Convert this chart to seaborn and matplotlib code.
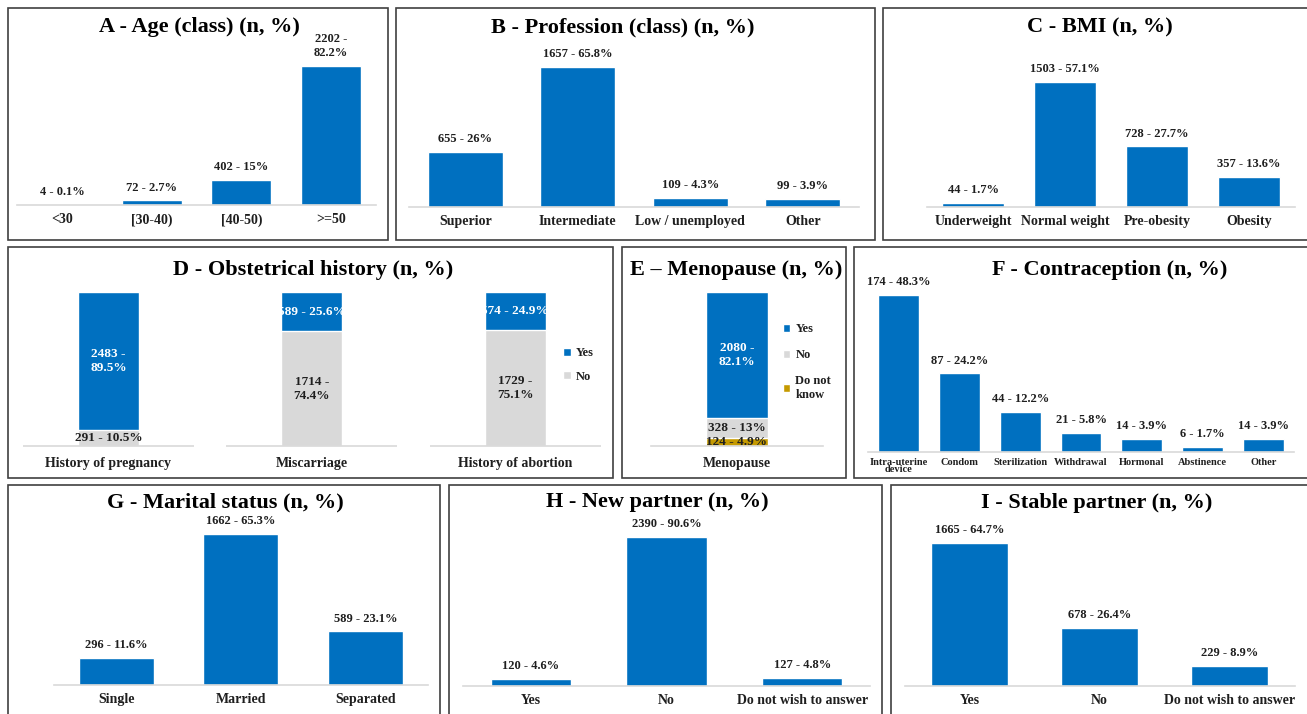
import numpy as np
import pandas as pd
import matplotlib.pyplot as plt
import seaborn as sns
from matplotlib.patches import Rectangle, Patch

# values
age_cat = ["<30", "[30-40)", "[40-50)", ">=50"]
age_n = [4, 72, 402, 2202]
age_pct = [0.1, 2.7, 15, 82.2]

prof_cat = ["Superior", "Intermediate", "Low / unemployed", "Other"]
prof_n = [655, 1657, 109, 99]
prof_pct = [26, 65.8, 4.3, 3.9]

bmi_cat = ["Underweight", "Normal weight", "Pre-obesity", "Obesity"]
bmi_n = [44, 1503, 728, 357]
bmi_pct = [1.7, 57.1, 27.7, 13.6]

obst_cat = ["History of pregnancy", "Miscarriage", "History of abortion"]
obst_yes_n = [2483, 589, 574]
obst_yes_pct = [89.5, 25.6, 24.9]
obst_no_n = [291, 1714, 1729]
obst_no_pct = [10.5, 74.4, 75.1]

meno_cat = ["Menopause"]
meno_levels = ["Yes", "No", "Do not\nknow"]
meno_n = [2080, 328, 124]
meno_pct = [82.1, 13, 4.9]

contra_cat = ["Intra-uterine\ndevice", "Condom", "Sterilization", "Withdrawal",
              "Hormonal", "Abstinence", "Other"]
contra_n = [174, 87, 44, 21, 14, 6, 14]
contra_pct = [48.3, 24.2, 12.2, 5.8, 3.9, 1.7, 3.9]

marital_cat = ["Single", "Married", "Separated"]
marital_n = [296, 1662, 589]
marital_pct = [11.6, 65.3, 23.1]

newp_cat = ["Yes", "No", "Do not wish to answer"]
newp_n = [120, 2390, 127]
newp_pct = [4.6, 90.6, 4.8]

stable_cat = ["Yes", "No", "Do not wish to answer"]
stable_n = [1665, 678, 229]
stable_pct = [64.7, 26.4, 8.9]

W, H = 1307, 714
BLUE, GREY, GOLD = "#0070C0", "#D9D9D9", "#C59A00"
INK = "#1F1F1F"

sns.set_theme(style="white")
plt.rcParams["font.family"] = ["Liberation Serif", "DejaVu Serif"]
plt.rcParams["font.weight"] = "bold"

fig = plt.figure(figsize=(W / 100, H / 100), dpi=100)


def lab(n, p):
    return f"{n} - {p:g}%"


def frame(x0, y0, x1, y1):
    fig.add_artist(Rectangle((x0 / W, 1 - y1 / H), (x1 - x0) / W, (y1 - y0) / H,
                             transform=fig.transFigure, facecolor="white",
                             edgecolor="#404040", lw=1.2, zorder=-5))


def title(txt, x, y):
    fig.text(x / W, 1 - (y + 2) / H, txt, ha="center", va="center", fontsize=16, color="black")


def new_ax(x0, x1, top, base):
    ax = fig.add_axes([x0 / W, 1 - base / H, (x1 - x0) / W, (base - top) / H])
    ax.set_facecolor("none")
    return ax


def style(ax, ncat, ymax, tick_size=10, pad=6, spine=True):
    ax.set_xlim(-0.5, ncat - 0.5)
    ax.set_ylim(0, ymax)
    ax.set_yticks([])
    ax.set_xlabel("")
    ax.set_ylabel("")
    for s in ["left", "right", "top"]:
        ax.spines[s].set_visible(False)
    ax.spines["bottom"].set_visible(spine)
    ax.spines["bottom"].set_color(GREY)
    ax.spines["bottom"].set_linewidth(1.2)
    ax.tick_params(axis="x", length=0, pad=pad, labelsize=tick_size, labelcolor=INK)


def simple(box, cats, n, pct, ymax, width, wrap=(), tick_size=10, pad=6):
    ax = new_ax(*box)
    sns.barplot(x=cats, y=n, color=BLUE, saturation=1, width=width,
                errorbar=None, ax=ax)
    labels = [lab(a, b) for a, b in zip(n, pct)]
    labels = [l.replace(" - ", " -\n") if i in wrap else l for i, l in enumerate(labels)]
    ax.bar_label(ax.containers[0], labels=labels, padding=5, fontsize=9, color=INK)
    style(ax, len(cats), ymax, tick_size, pad)
    return ax


# frames
frame(8, 8, 388, 240)
frame(396, 8, 875, 240)
frame(883, 8, 1330, 240)
frame(8, 247, 613, 478)
frame(622, 247, 846, 478)
frame(854, 247, 1330, 478)
frame(8, 485, 440, 730)
frame(449, 485, 882, 730)
frame(891, 485, 1330, 730)

# A
simple((17, 376, 45, 205), age_cat, age_n, age_pct, 2535, 0.67, wrap=(3,))
title("A - Age (class) (n, %)", 199, 25)

# B
simple((409, 859, 45, 207), prof_cat, prof_n, prof_pct, 1917, 0.67)
title("B - Profession (class) (n, %)", 623, 25)

# C
simple((927, 1295, 45, 207), bmi_cat, bmi_n, bmi_pct, 1948, 0.67)
title("C - BMI (n, %)", 1100, 25)

# D - stacked (No at the bottom, Yes on top)
ax = new_ax(6.75, 617, 285, 446)
obst_top = np.add(obst_no_pct, obst_yes_pct)
sns.barplot(x=obst_cat, y=obst_top, color=BLUE, saturation=1, width=0.3, errorbar=None, ax=ax)
sns.barplot(x=obst_cat, y=obst_no_pct, color=GREY, saturation=1, width=0.3, errorbar=None, ax=ax)
for i in range(len(obst_cat)):
    t = lab(obst_yes_n[i], obst_yes_pct[i])
    if obst_yes_pct[i] > 50:
        t = t.replace(" - ", " -\n")
    ax.text(i, obst_no_pct[i] + obst_yes_pct[i] / 2, t, ha="center", va="center",
            fontsize=9.5, color="white")
    t = lab(obst_no_n[i], obst_no_pct[i])
    if obst_no_pct[i] > 50:
        t = t.replace(" - ", " -\n")
    ax.text(i, obst_no_pct[i] / 2, t, ha="center", va="center", fontsize=9.5, color=INK)
style(ax, len(obst_cat), 104.5, 10, 8, spine=False)
for i in range(len(obst_cat)):
    ax.hlines(0, i - 0.42, i + 0.42, color=GREY, lw=1.2, clip_on=False)
fig.legend(handles=[Patch(facecolor=BLUE, label="Yes"), Patch(facecolor=GREY, label="No")],
           loc="center left", bbox_to_anchor=(563 / W, 1 - 365 / H), frameon=False,
           fontsize=9, handlelength=0.6, handleheight=0.6, handletextpad=0.4,
           labelspacing=0.9, borderpad=0, borderaxespad=0, labelcolor=INK)
title("D - Obstetrical history (n, %)", 313, 268)

# E - stacked (Do not know at the bottom, then No, then Yes)
ax = new_ax(651, 823, 285, 446)
meno_cum = np.cumsum(meno_pct[::-1])[::-1]
for h, c in zip(meno_cum, [BLUE, GREY, GOLD]):
    sns.barplot(x=meno_cat, y=[h], color=c, saturation=1, width=0.36, errorbar=None, ax=ax)
for k in range(len(meno_levels)):
    mid = meno_cum[k] - meno_pct[k] / 2
    t = lab(meno_n[k], meno_pct[k])
    if meno_pct[k] > 50:
        t = t.replace(" - ", " -\n")
    ax.text(0, mid, t, ha="center", va="center", fontsize=9.5,
            color="white" if k == 0 else INK)
style(ax, 1, 104.5, 10, 8)
fig.legend(handles=[Patch(facecolor=c, label=l) for c, l in zip([BLUE, GREY, GOLD], meno_levels)],
           loc="center left", bbox_to_anchor=(783 / W, 1 - 362 / H), frameon=False,
           fontsize=9, handlelength=0.6, handleheight=0.6, handletextpad=0.4,
           labelspacing=1.1, borderpad=0, borderaxespad=0, labelcolor=INK)
title("E \u2013 Menopause (n, %)", 736, 268)

# F
ax = simple((868, 1294, 285, 452), contra_cat, contra_n, contra_pct, 185, 0.67,
            tick_size=7.5, pad=4)
for t in ax.get_xticklabels():
    t.set_linespacing(0.8)
title("F - Contraception (n, %)", 1110, 268)

# G
simple((54, 427.5, 520, 685), marital_cat, marital_n, marital_pct, 1816, 0.6)
title("G - Marital status (n, %)", 225, 500)

# H
simple((463, 870, 520, 686), newp_cat, newp_n, newp_pct, 2663, 0.59)
title("H - New partner (n, %)", 657, 500)

# I
simple((904.5, 1294.5, 520, 686), stable_cat, stable_n, stable_pct, 1933, 0.59)
title("I - Stable partner (n, %)", 1097, 501)

fig.savefig("out.png", dpi=100, facecolor="white")
